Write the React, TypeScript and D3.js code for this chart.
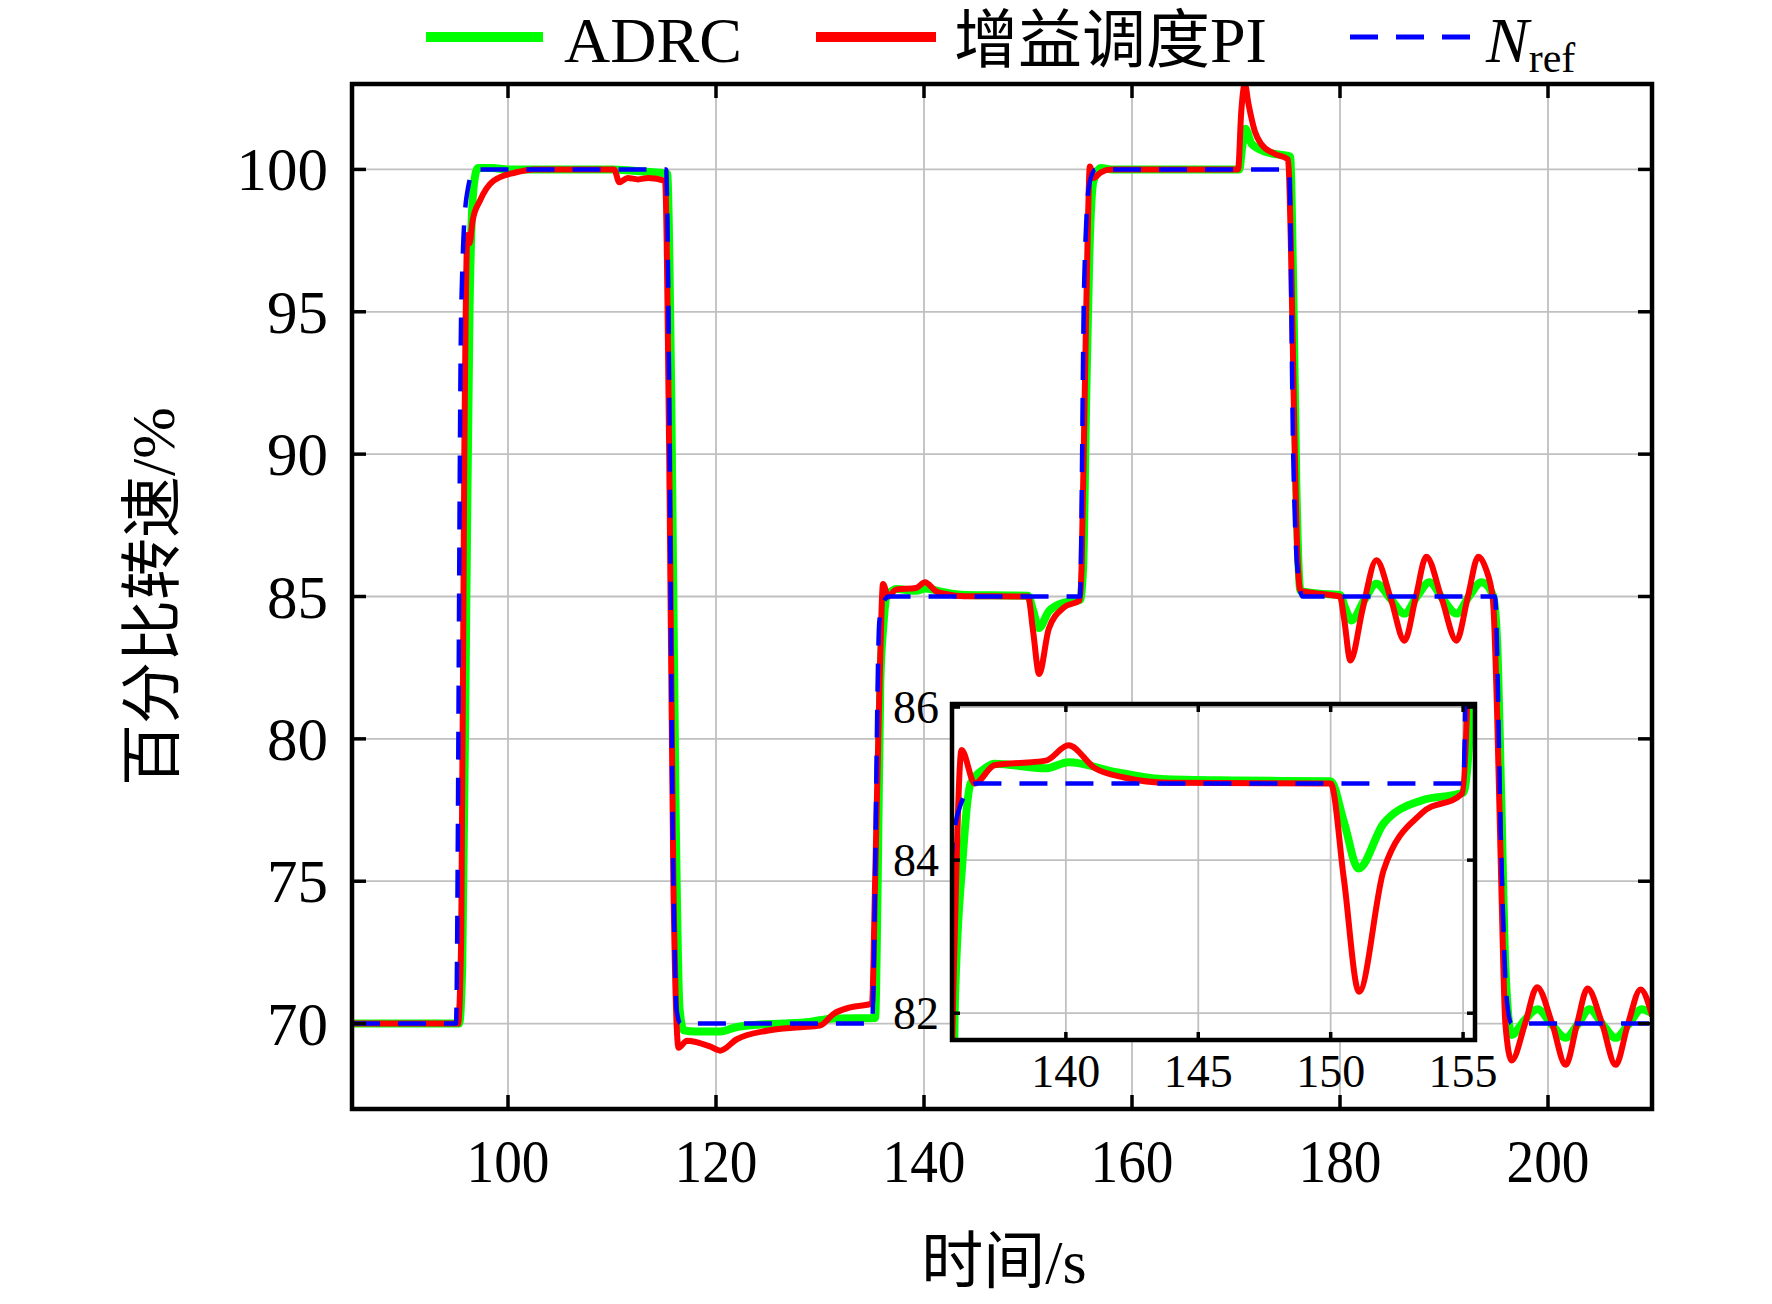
import React, { useEffect } from "react";
import * as d3 from "d3";

// ---------- data ----------
const xTicks = [100, 120, 140, 160, 180, 200];
const yTicks = [70, 75, 80, 85, 90, 95, 100];
const insetXTicks = [140, 145, 150, 155];
const insetYTicks = [82, 84, 86];

const legendLabels = ["ADRC", "增益调度PI", "N"];

// reference speed N_ref
const refSeries: [number, number][] = [
  [85, 70], [95.0, 70], [95.5, 95], [96.0, 99], [96.8, 100], [115.2, 100], [115.9, 75], [116.2, 70.5], [116.6, 70],
  [135.0, 70], [135.7, 84.1], [136.0, 84.7], [136.6, 85], [155.0, 85], [155.4, 96], [155.9, 99.5], [156.5, 100],
  [175.1, 100], [175.5, 90], [175.9, 86], [176.4, 85], [194.9, 85], [195.5, 76], [196.0, 71], [196.5, 70], [210, 70],
];

// ADRC response
const adrcSeries: [number, number][] = [
  [85, 70], [95.3, 70], [95.6, 72], [96.0, 85], [96.3, 95], [96.7, 99.4], [97.1, 100.05], [98.5, 100.05], [100, 100],
  [110, 100], [112, 99.95], [115.3, 99.85], [115.7, 92], [116.1, 78], [116.5, 70.5], [116.9, 69.76], [118, 69.72],
  [120.4, 69.72], [122, 69.88], [124, 69.96], [126.5, 70], [129, 70.06], [131.3, 70.18], [135.3, 70.2], [135.55, 75],
  [135.8, 82], [136.1, 84], [136.4, 85], [136.95, 85.2], [137.3, 85.26], [139.24, 85.2], [140.1, 85.28], [141.9, 85.15],
  [143.6, 85.06], [146.4, 85.04], [150, 85.03], [150.5, 84.5], [151.05, 83.89], [152.0, 84.48], [153.43, 84.78],
  [155.0, 84.88], [155.3, 86], [155.6, 92], [155.9, 97], [156.3, 99.6], [157.0, 100.05], [158, 100], [170.3, 100],
  [170.6, 100.8], [170.9, 101.43], [171.5, 100.9], [173.0, 100.6], [175.2, 100.45], [175.5, 96], [175.8, 89],
  [176.2, 85.2], [178, 85.1], [180, 85.05], [180.5, 84.6], [181.1, 84.16], [182.3, 84.85], [183.5, 85.45],
  [184.9, 84.9], [186.2, 84.4], [187.4, 85.0], [188.6, 85.5], [189.9, 84.9], [191.2, 84.4], [192.4, 85.0],
  [193.6, 85.5], [194.7, 85.05], [195.1, 83.5], [195.5, 78], [195.9, 72], [196.5, 69.6], [197.7, 70.1], [199, 70.5],
  [200.3, 70.0], [201.7, 69.5], [202.9, 70.0], [204, 70.5], [205.2, 70.0], [206.5, 69.5], [207.8, 70.0], [209, 70.5],
  [210, 70.35],
];

// gain-scheduled PI response
const piSeries: [number, number][] = [
  [85, 70], [95.2, 70], [95.5, 73], [95.8, 90], [96.1, 97.7], [96.3, 97.4], [96.6, 98.2], [97.3, 98.9], [98.6, 99.6],
  [100.8, 99.9], [102.5, 100], [110.2, 100], [110.7, 99.55], [111.5, 99.7], [112.5, 99.65], [113.5, 99.7],
  [115.1, 99.6], [115.5, 90], [115.9, 75], [116.4, 69.15], [117.2, 69.4], [119.4, 69.2], [120.4, 69.05], [122, 69.45],
  [124.9, 69.75], [128.1, 69.87], [130, 69.93], [131.3, 70.34], [132.9, 70.57], [135.0, 70.7], [135.3, 75],
  [135.75, 82.3], [136.06, 85.44], [136.56, 85.0], [137.3, 85.24], [139.24, 85.3], [140.1, 85.5], [141.1, 85.2],
  [142.2, 85.08], [143.9, 85.01], [150.0, 85.0], [150.5, 83.75], [151.07, 82.28], [152.0, 83.87], [153.43, 84.61],
  [154.96, 84.87], [155.15, 86], [155.45, 92], [155.7, 97], [155.95, 100.1], [156.3, 99.7], [157, 99.9], [158, 100],
  [170.2, 100], [170.5, 102], [170.85, 103], [171.2, 102.3], [171.8, 101.35], [172.4, 100.9], [173.7, 100.55],
  [175.0, 100.35], [175.3, 97], [175.6, 91], [175.9, 86.5], [176.2, 85.2], [178, 85.1], [180, 85.0], [180.4, 84.2],
  [181.0, 82.75], [182.2, 84.6], [183.5, 86.27], [184.9, 84.9], [186.2, 83.45], [187.3, 85.0], [188.3, 86.4],
  [189.8, 84.9], [191.2, 83.45], [192.3, 85.0], [193.3, 86.4], [194.0, 86.0], [194.7, 84.9], [195.1, 81],
  [195.5, 75], [195.9, 70], [196.5, 68.7], [197.8, 70], [198.95, 71.28], [200.4, 70], [201.7, 68.55], [202.8, 70],
  [203.8, 71.23], [205.2, 70], [206.5, 68.55], [207.7, 70], [208.9, 71.2], [210, 70.3],
];

// ---------- layout ----------
const W = 1772;
const H = 1304;
const P = { left: 352, right: 1652, top: 84, bottom: 1109 };
const I = { left: 952, right: 1475, top: 704, bottom: 1040 };
const FONT = "'Liberation Serif', 'Times New Roman', 'Noto Sans CJK SC', serif";
const CJK = "'Liberation Serif', 'Noto Sans CJK SC', serif";
const GREEN = "#00ff00";
const RED = "#ff0000";
const BLUE = "#0000ff";
const GRID = "#c0c0c0";

export default function App() {
  useEffect(() => {
    document.body.style.margin = "0";
  }, []);

  const x = d3.scaleLinear().domain([85, 210]).range([P.left, P.right]);
  const y = d3.scaleLinear().domain([67, 103]).range([P.bottom, P.top]);
  const ix = d3.scaleLinear().domain([135.7, 155.45]).range([I.left, I.right]);
  const iy = d3.scaleLinear().domain([81.65, 86.04]).range([I.bottom, I.top]);

  const mkLine = (sx: any, sy: any) =>
    d3
      .line<[number, number]>()
      .x((d) => sx(d[0]))
      .y((d) => sy(d[1]))
      .curve(d3.curveMonotoneX);

  const mainLine = mkLine(x, y);
  const insetLine = mkLine(ix, iy);

  const tickLen = 14;
  const iTickLen = 8;

  return (
    <svg width={W} height={H} style={{ position: "absolute", left: 0, top: 0, background: "#fff" }}>
      <defs>
        <clipPath id="mainClip">
          <rect x={P.left} y={P.top} width={P.right - P.left} height={P.bottom - P.top} />
        </clipPath>
        <clipPath id="insetClip">
          <rect x={I.left} y={I.top} width={I.right - I.left} height={I.bottom - I.top} />
        </clipPath>
      </defs>
      <rect x={0} y={0} width={W} height={H} fill="#fff" />

      {/* main grid */}
      {xTicks.map((t) => (
        <line key={"gx" + t} x1={x(t)} x2={x(t)} y1={P.top} y2={P.bottom} stroke={GRID} strokeWidth={1.8} />
      ))}
      {yTicks.map((t) => (
        <line key={"gy" + t} x1={P.left} x2={P.right} y1={y(t)} y2={y(t)} stroke={GRID} strokeWidth={1.8} />
      ))}

      {/* main lines */}
      <g clipPath="url(#mainClip)" fill="none" strokeLinejoin="round" strokeLinecap="round">
        <path d={mainLine(adrcSeries) || ""} stroke={GREEN} strokeWidth={8} />
        <path d={mainLine(piSeries) || ""} stroke={RED} strokeWidth={6} />
        <path d={mainLine(refSeries) || ""} stroke={BLUE} strokeWidth={4.5} strokeDasharray="28 18" strokeLinecap="butt" />
      </g>

      {/* main frame & ticks */}
      <rect x={P.left} y={P.top} width={P.right - P.left} height={P.bottom - P.top} fill="none" stroke="#000" strokeWidth={4.5} />
      {xTicks.map((t) => (
        <g key={"tx" + t}>
          <line x1={x(t)} x2={x(t)} y1={P.bottom} y2={P.bottom - tickLen} stroke="#000" strokeWidth={3.5} />
          <line x1={x(t)} x2={x(t)} y1={P.top} y2={P.top + tickLen} stroke="#000" strokeWidth={3.5} />
          <text x={x(t)} y={1182} textAnchor="middle" fontFamily={FONT} fontSize={61} textLength={83} lengthAdjust="spacingAndGlyphs">
            {t}
          </text>
        </g>
      ))}
      {yTicks.map((t) => (
        <g key={"ty" + t}>
          <line x1={P.left} x2={P.left + tickLen} y1={y(t)} y2={y(t)} stroke="#000" strokeWidth={3.5} />
          <line x1={P.right} x2={P.right - tickLen} y1={y(t)} y2={y(t)} stroke="#000" strokeWidth={3.5} />
          <text x={328} y={y(t) + 21} textAnchor="end" fontFamily={FONT} fontSize={61}>
            {t}
          </text>
        </g>
      ))}

      {/* axis titles */}
      <text x={(P.left + P.right) / 2 + 2} y={1283} textAnchor="middle" fontFamily={CJK} fontSize={62}>
        时间/s
      </text>
      <text
        transform={`translate(174,${(P.top + P.bottom) / 2}) rotate(-90)`}
        textAnchor="middle"
        fontFamily={CJK}
        fontSize={62}
      >
        百分比转速/%
      </text>

      {/* inset */}
      <rect x={I.left} y={I.top} width={I.right - I.left} height={I.bottom - I.top} fill="#fff" />
      {insetXTicks.map((t) => (
        <line key={"igx" + t} x1={ix(t)} x2={ix(t)} y1={I.top} y2={I.bottom} stroke={GRID} strokeWidth={1.8} />
      ))}
      {insetYTicks.map((t) => (
        <line key={"igy" + t} x1={I.left} x2={I.right} y1={iy(t)} y2={iy(t)} stroke={GRID} strokeWidth={1.8} />
      ))}
      <g clipPath="url(#insetClip)" fill="none" strokeLinejoin="round" strokeLinecap="round">
        <path d={insetLine(adrcSeries) || ""} stroke={GREEN} strokeWidth={8} />
        <path d={insetLine(piSeries) || ""} stroke={RED} strokeWidth={6} />
        <path d={insetLine(refSeries) || ""} stroke={BLUE} strokeWidth={4.5} strokeDasharray="28 18" strokeLinecap="butt" />
      </g>
      <rect x={I.left} y={I.top} width={I.right - I.left} height={I.bottom - I.top} fill="none" stroke="#000" strokeWidth={4.5} />
      {insetXTicks.map((t) => (
        <g key={"itx" + t}>
          <line x1={ix(t)} x2={ix(t)} y1={I.bottom} y2={I.bottom - iTickLen} stroke="#000" strokeWidth={3.5} />
          <line x1={ix(t)} x2={ix(t)} y1={I.top} y2={I.top + iTickLen} stroke="#000" strokeWidth={3.5} />
          <text x={ix(t)} y={1087} textAnchor="middle" fontFamily={FONT} fontSize={46}>
            {t}
          </text>
        </g>
      ))}
      {insetYTicks.map((t) => (
        <g key={"ity" + t}>
          <line x1={I.left} x2={I.left + iTickLen} y1={iy(t)} y2={iy(t)} stroke="#000" strokeWidth={3.5} />
          <line x1={I.right} x2={I.right - iTickLen} y1={iy(t)} y2={iy(t)} stroke="#000" strokeWidth={3.5} />
          <text x={939} y={iy(t) + 16} textAnchor="end" fontFamily={FONT} fontSize={46}>
            {t}
          </text>
        </g>
      ))}

      {/* legend */}
      <line x1={426} x2={543} y1={37} y2={37} stroke={GREEN} strokeWidth={10} />
      <text x={564} y={62} fontFamily={FONT} fontSize={64}>
        {legendLabels[0]}
      </text>
      <line x1={816} x2={936} y1={37} y2={37} stroke={RED} strokeWidth={10} />
      <text x={954} y={62} fontFamily={CJK} fontSize={64}>
        {legendLabels[1]}
      </text>
      <line x1={1350} x2={1472} y1={37} y2={37} stroke={BLUE} strokeWidth={5} strokeDasharray="28 18" />
      <text x={1486} y={62} fontFamily={FONT} fontSize={64}>
        <tspan fontStyle="italic">{legendLabels[2]}</tspan>
        <tspan fontSize={42} dy={10}>ref</tspan>
      </text>
    </svg>
  );
}
